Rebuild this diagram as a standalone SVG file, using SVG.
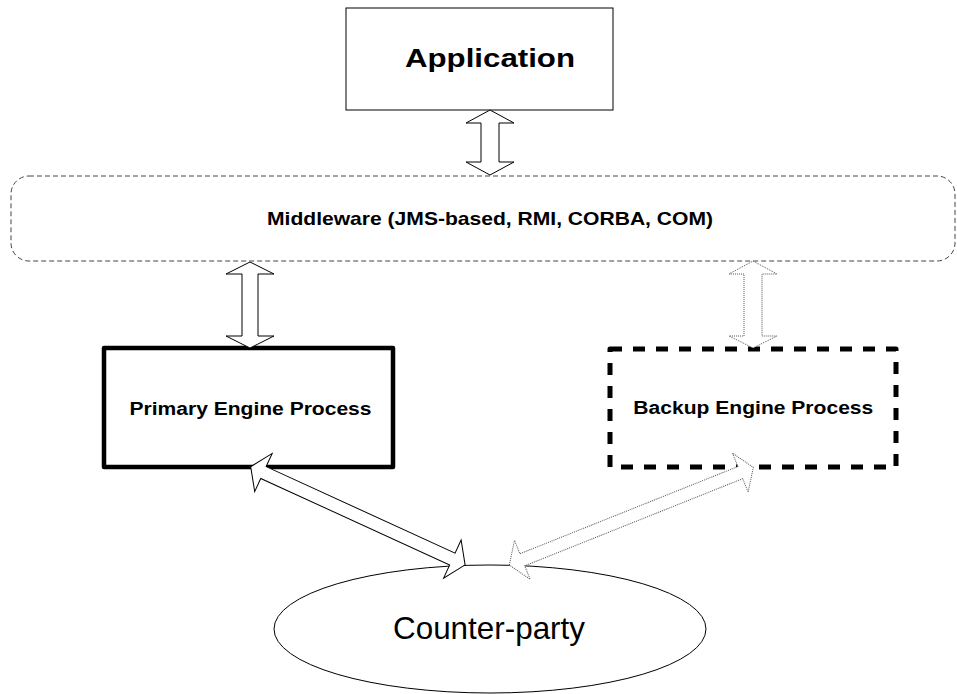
<svg xmlns="http://www.w3.org/2000/svg" width="957" height="694" viewBox="0 0 957 694">
  <style>
    .bg { fill: #ffffff; }
    .box { fill: #ffffff; stroke: #000000; stroke-width: 1; }
    .mw { fill: #ffffff; stroke: #444444; stroke-width: 1; stroke-dasharray: 5 3; }
    .primary { fill: #ffffff; stroke: #000000; stroke-width: 4.5; stroke-linejoin: round; }
    .backup { fill: #ffffff; stroke: #000000; stroke-width: 5; stroke-dasharray: 12 11; stroke-linejoin: round; }
    .arrow { fill: #ffffff; stroke: #000000; stroke-width: 1; stroke-linejoin: miter; }
    .arrow-dotted { fill: #ffffff; stroke: #555555; stroke-width: 1; stroke-dasharray: 1 1; }
    .label { font-family: "Liberation Sans", Arial, sans-serif; font-weight: bold; fill: #000000; text-anchor: middle; }
    .label-plain { font-family: "Liberation Sans", Arial, sans-serif; font-weight: normal; fill: #000000; text-anchor: middle; }
  </style>

  <rect class="bg" x="0" y="0" width="957" height="694"/>

  <!-- Nodes -->
  <g id="application">
    <rect class="box" x="346" y="8" width="267" height="102"/>
    <text class="label" x="490" y="67" font-size="25.5" textLength="170" lengthAdjust="spacingAndGlyphs">Application</text>
  </g>

  <g id="middleware">
    <rect class="mw" x="11" y="176" width="944" height="85" rx="18" ry="18"/>
    <text class="label" x="490" y="225" font-size="19" textLength="446" lengthAdjust="spacingAndGlyphs">Middleware (JMS-based, RMI, CORBA, COM)</text>
  </g>

  <g id="primary-engine">
    <rect class="primary" x="104" y="348" width="289" height="119"/>
    <text class="label" x="250.5" y="415" font-size="18" textLength="242" lengthAdjust="spacingAndGlyphs">Primary Engine Process</text>
  </g>

  <g id="backup-engine">
    <rect class="backup" x="610" y="349" width="286" height="118"/>
    <text class="label" x="753.3" y="414" font-size="18" textLength="240" lengthAdjust="spacingAndGlyphs">Backup Engine Process</text>
  </g>

  <g id="counter-party">
    <ellipse class="box" cx="490" cy="629" rx="216" ry="64"/>
    <text class="label-plain" x="489" y="639" font-size="30.5" textLength="192" lengthAdjust="spacingAndGlyphs">Counter-party</text>
  </g>

  <!-- Connectors: double-headed block arrows -->
  <g id="connectors">
    <!-- Application <-> Middleware -->
    <path class="arrow" d="M490,110 L514,123 L499,123 L499,162 L514,162 L490,175 L466,162 L481,162 L481,123 L466,123 Z"/>
    <!-- Middleware <-> Primary -->
    <path class="arrow" d="M250,262 L274,274 L258,274 L258,336 L274,336 L250,348 L226,336 L242,336 L242,274 L226,274 Z"/>
    <!-- Middleware <-> Backup -->
    <path class="arrow-dotted" d="M753,261 L777,274 L762,274 L762,336 L777,336 L753,348 L729,336 L744,336 L744,274 L729,274 Z"/>
    <!-- Primary <-> Counter-party -->
    <path class="arrow" transform="translate(250.7,466.7) rotate(24.6)" d="M0,0 L14,-21 L14,-6.5 L221.8,-6.5 L221.8,-21 L235.8,0 L221.8,21 L221.8,6.5 L14,6.5 L14,21 Z"/>
    <!-- Backup <-> Counter-party -->
    <path class="arrow-dotted" transform="translate(509.3,565) rotate(-21.8)" d="M0,0 L14,-21 L14,-6.5 L248.8,-6.5 L248.8,-21 L262.8,0 L248.8,21 L248.8,6.5 L14,6.5 L14,21 Z"/>
  </g>
</svg>
